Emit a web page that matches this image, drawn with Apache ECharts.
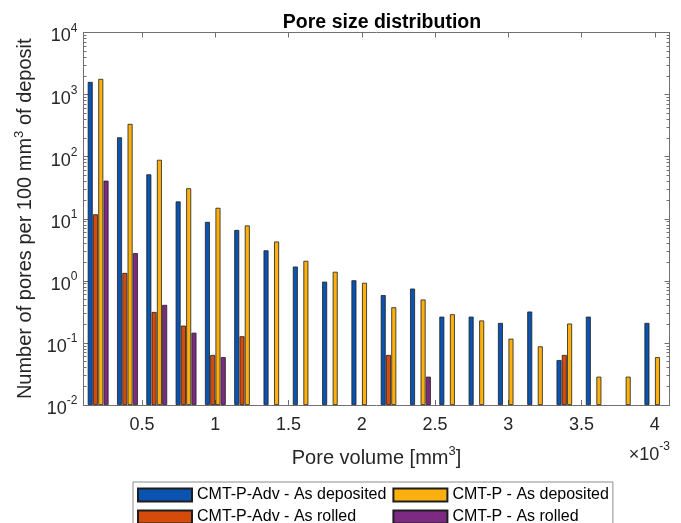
<!DOCTYPE html>
<html>
<head>
<meta charset="utf-8">
<script src="https://cdn.jsdelivr.net/npm/echarts@6/dist/echarts.min.js"></script>
<style>
  html, body { margin: 0; padding: 0; background: #fff; }
  #chart { width: 681px; height: 523px; }
</style>
</head>
<body>
<div id="chart"></div>
<script>
  // bin centres, pore volume in 1e-3 mm^3
  const poreVolume = ['0.2', '0.4', '0.6', '0.8', '1.0', '1.2', '1.4', '1.6', '1.8', '2.0',
                      '2.2', '2.4', '2.6', '2.8', '3.0', '3.2', '3.4', '3.6', '3.8', '4.0']
  // number of pores per 100 mm^3 of deposit (null = no bar)
  const advDeposited = [1600, 205, 52, 19, 8.9, 6.6, 3.1, 1.7, 0.97, 1.02,
                        0.59, 0.75, 0.265, 0.265, 0.21, 0.32, 0.053, 0.265, null, 0.21]
  const advRolled = [11.8, 1.34, 0.315, 0.19, 0.064, 0.128, null, null, null, null,
                     0.064, null, null, null, null, null, 0.064, null, null, null]
  const pDeposited = [1790, 337, 89, 31, 15, 7.8, 4.3, 2.1, 1.4, 0.93,
                      0.375, 0.5, 0.29, 0.23, 0.117, 0.088, 0.205, 0.0286, 0.0286, 0.059]
  const pRolled = [41, 2.8, 0.41, 0.146, 0.059, null, null, null, null, null,
                   null, 0.0286, null, null, null, null, null, null, null, null]
  const xTicks = [0.5, 1, 1.5, 2, 2.5, 3, 3.5, 4]
  const seriesNames = ['CMT-P-Adv - As deposited', 'CMT-P-Adv - As rolled', 'CMT-P - As deposited', 'CMT-P - As rolled']
  const colors = ['#0a53b0', '#d54b0b', '#fcb00d', '#7d2a82']

  const font = "'Liberation Sans', Arial, Helvetica, sans-serif"
  const textColor = '#262626'
  const axisColor = '#707070'

  /*minor log ticks, in log10 space*/
  let minorTicks = []
  for (let n = -2; n < 4; n++) {
    for (let k = 2; k <= 9; k++) minorTicks.push(n + Math.log10(k))
  }

  let chart = echarts.init(document.getElementById('chart'), null, { renderer: 'canvas' })

  let toBar = arr => arr.map(v => (v == null ? '-' : v))
  let series = [advDeposited, advRolled, pDeposited, pRolled].map((arr, i) => ({
    name: seriesNames[i],
    type: 'bar',
    xAxisIndex: 0,
    yAxisIndex: 0,
    data: toBar(arr),
    barCategoryGap: '29%',
    barGap: '6%',
    itemStyle: { color: colors[i], borderColor: '#1e1e1e', borderWidth: 0.8 }
  }))

  let logAxis = (pos, opts) => Object.assign({
    type: 'value', min: -2, max: 4, position: pos,
    splitLine: { show: false },
    axisLabel: { show: false },
    axisLine: { show: false },
    axisTick: { show: false }
  }, opts)

  let option = {
    animation: false,
    backgroundColor: '#fff',
    textStyle: { fontFamily: font },
    title: {
      text: 'Pore size distribution',
      left: 377, top: 8, textAlign: 'center',
      textStyle: { fontSize: 19.5, fontWeight: 'bold', color: '#000', fontFamily: font }
    },
    grid: { left: 83.5, top: 32.5, width: 586, height: 372.5, containLabel: false },
    legend: {
      data: seriesNames,
      orient: 'vertical',
      left: 133, top: 482, height: 40,
      itemWidth: 54, itemHeight: 13, itemGap: 6, itemTextGap: 6,
      padding: [5, 4, 12, 4],
      borderColor: '#8c8c8c', borderWidth: 1, backgroundColor: '#fff',
      icon: 'rect',
      textStyle: { fontSize: 16, color: '#000', fontFamily: font, lineHeight: 10 }
    },
    xAxis: [
      { type: 'category', data: poreVolume, show: false, gridIndex: 0 },
      {
        type: 'value', min: 0.1, max: 4.1, position: 'bottom',
        name: '{n|Pore volume [mm}{s|3}{n|]}',
        nameLocation: 'middle', nameGap: 40,
        nameTextStyle: {
          rich: {
            n: { fontSize: 20, color: textColor, fontFamily: font },
            s: { fontSize: 13, color: textColor, fontFamily: font, padding: [0, 0, 13, 0] }
          }
        },
        splitLine: { show: false },
        axisLine: { show: true, onZero: false, lineStyle: { color: axisColor, width: 1 } },
        axisTick: { show: true, inside: true, length: 5, customValues: xTicks, lineStyle: { color: axisColor } },
        axisLabel: { customValues: xTicks, fontSize: 18, color: textColor, margin: 11, fontFamily: font }
      },
      {
        type: 'value', min: 0.1, max: 4.1, position: 'top',
        splitLine: { show: false },
        axisLine: { show: true, onZero: false, lineStyle: { color: axisColor, width: 1 } },
        axisTick: { show: true, inside: true, length: 5, customValues: xTicks, lineStyle: { color: axisColor } },
        axisLabel: { show: false }
      }
    ],
    yAxis: [
      { type: 'log', logBase: 10, min: 0.01, max: 10000, startValue: 0.01, show: false },
      logAxis('left', {
        interval: 1,
        name: '{n|Number of pores per 100 mm}{s|3}{n| of deposit}',
        nameLocation: 'middle', nameGap: 44, nameRotate: 90,
        nameTextStyle: {
          rich: {
            n: { fontSize: 20, color: textColor, fontFamily: font },
            s: { fontSize: 13, color: textColor, fontFamily: font, padding: [0, 0, 13, 0] }
          }
        },
        axisLine: { show: true, onZero: false, lineStyle: { color: axisColor, width: 1 } },
        axisTick: { show: true, inside: true, length: 5, lineStyle: { color: axisColor } },
        axisLabel: {
          show: true, margin: 6,
          formatter: v => '{b|10}{s|' + Math.round(v) + '}',
          rich: {
            b: { fontSize: 18, color: textColor, fontFamily: font, padding: [8, 0, 0, 0] },
            s: { fontSize: 12, color: textColor, fontFamily: font, padding: [0, 0, 8, 0] }
          }
        }
      }),
      logAxis('left', {
        axisTick: { show: true, inside: true, length: 3, customValues: minorTicks, lineStyle: { color: axisColor } }
      }),
      logAxis('right', {
        interval: 1,
        axisLine: { show: true, onZero: false, lineStyle: { color: axisColor, width: 1 } },
        axisTick: { show: true, inside: true, length: 5, lineStyle: { color: axisColor } }
      }),
      logAxis('right', {
        axisTick: { show: true, inside: true, length: 3, customValues: minorTicks, lineStyle: { color: axisColor } }
      })
    ],
    graphic: [{
      type: 'text', right: 11, top: 441,
      style: {
        text: '{b|\u00d710}{s|-3}',
        fill: textColor,
        rich: {
          b: { fontSize: 18, fill: textColor, fontFamily: font, padding: [8, 0, 0, 0] },
          s: { fontSize: 12, fill: textColor, fontFamily: font, padding: [0, 0, 8, 0] }
        }
      }
    }],
    series: series
  }
  chart.setOption(option)
</script>
</body>
</html>
